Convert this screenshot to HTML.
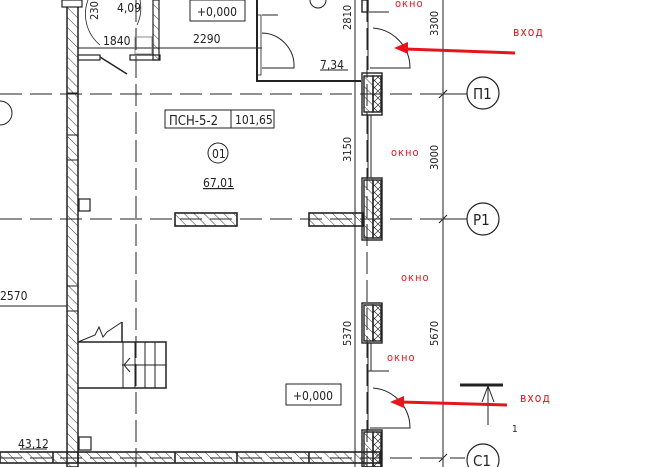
<!DOCTYPE html>
<html><head><meta charset="utf-8"><style>
html,body{margin:0;padding:0;background:#fff;width:648px;height:467px;overflow:hidden}
svg text{font-family:"DejaVu Sans Condensed","DejaVu Sans","Liberation Sans",sans-serif}
</style></head><body>
<svg width="648" height="467" viewBox="0 0 648 467" xmlns="http://www.w3.org/2000/svg">
<defs>
<pattern id="h" width="7" height="7" patternUnits="userSpaceOnUse" patternTransform="rotate(-45)">
<line x1="0" y1="0" x2="0" y2="7" stroke="#222" stroke-width="0.9"/></pattern>
<pattern id="x" width="7" height="7" patternUnits="userSpaceOnUse">
<path d="M0 0L7 7M7 0L0 7" stroke="#333" stroke-width="0.7"/></pattern>
</defs>
<g fill="none" stroke="#222">
<line x1="0" y1="94" x2="465" y2="94" stroke-dasharray="22,8" stroke-width="1"/>
<line x1="0" y1="219" x2="465" y2="219" stroke-dasharray="22,8" stroke-width="1"/>
<line x1="0" y1="458" x2="465" y2="458" stroke-dasharray="22,8" stroke-width="1"/>
<line x1="136" y1="0" x2="136" y2="467" stroke-dasharray="22,6" stroke-width="1"/>
<line x1="367" y1="0" x2="367" y2="467" stroke-dasharray="22,6" stroke-width="1"/>
<line x1="355" y1="0" x2="355" y2="467" stroke-width="1"/>
<line x1="443" y1="0" x2="443" y2="467" stroke-width="1"/>
<path d="M439 98l8-8M439 223l8-8M439 462l8-8" stroke-width="1"/>
<line x1="443" y1="94" x2="467" y2="94"/><line x1="443" y1="219" x2="467" y2="219"/>
<circle cx="0" cy="113" r="12"/>
<circle cx="483" cy="93" r="16" stroke-width="1.2"/>
<circle cx="483" cy="219" r="16" stroke-width="1.2"/>
<circle cx="483" cy="460" r="16" stroke-width="1.2"/>
<circle cx="218" cy="153" r="10"/>
<rect x="67" y="0" width="11" height="467" fill="url(#h)" stroke-width="1.5"/>
<line x1="67" y1="93" x2="78" y2="93"/><line x1="67" y1="135" x2="78" y2="135"/><line x1="67" y1="160" x2="78" y2="160"/><line x1="67" y1="286" x2="78" y2="286"/><line x1="67" y1="311" x2="78" y2="311"/>
<rect x="62" y="0" width="20" height="7" fill="#fff" stroke-width="1.2"/>
<line x1="78" y1="48" x2="262" y2="48" stroke-width="1"/>
<rect x="78" y="55" width="22" height="5" stroke-width="1.2"/>
<line x1="100" y1="57" x2="127" y2="74" stroke-width="1.5"/>
<rect x="130" y="55" width="30" height="5" stroke-width="1.2"/>
<rect x="153" y="0" width="6" height="60" fill="url(#h)" stroke-width="1.2"/>
<rect x="135" y="37" width="17" height="17" stroke="#888"/>
<path d="M88 0a40 40 0 0 0 12 45" stroke-width="0.8"/>
<path d="M140 0a40 40 0 0 1 -3 25" stroke-width="0.8"/>
<path d="M257 0V81H361" stroke-width="2"/>
<rect x="257" y="15" width="4" height="60" stroke-width="0.8"/>
<path d="M262 15h16M262 33a33 33 0 0 1 32 35h-32" stroke-width="1"/>
<path d="M310 0a8 8 0 0 0 16 0" stroke-width="1"/>
<g stroke-width="1.4">
<rect x="362" y="73" width="20" height="42"/><rect x="364" y="76" width="9" height="36" fill="url(#h)"/><rect x="373" y="76" width="8" height="36" fill="url(#x)"/>
<rect x="362" y="178" width="20" height="62"/><rect x="364" y="180" width="9" height="58" fill="url(#h)"/><rect x="373" y="180" width="8" height="58" fill="url(#x)"/>
<rect x="362" y="303" width="20" height="40"/><rect x="364" y="305" width="9" height="36" fill="url(#h)"/><rect x="373" y="305" width="8" height="36" fill="url(#x)"/>
<rect x="362" y="430" width="20" height="37"/><rect x="364" y="432" width="9" height="35" fill="url(#h)"/><rect x="373" y="432" width="8" height="35" fill="url(#x)"/>
<rect x="362" y="0" width="6" height="12"/>
</g>
<rect x="368" y="115" width="3" height="63" stroke-width="1"/>
<rect x="368" y="343" width="3" height="28" stroke-width="1"/>
<path d="M368 12V70M368 371V430" stroke-width="1"/>
<path d="M369 12h20M373 28a40 40 0 0 1 37 40h-40" stroke-width="1"/>
<path d="M369 371h20M373 388a40 40 0 0 1 37 40h-40" stroke-width="1"/>
<rect x="175" y="213" width="62" height="13" fill="url(#h)" stroke-width="1.6"/>
<rect x="309" y="213" width="54" height="13" fill="url(#h)" stroke-width="1.6"/>
<rect x="79" y="199" width="11" height="12" stroke-width="1.2"/>
<rect x="79" y="437" width="12" height="13" stroke-width="1.2"/>
<rect x="0" y="452" width="380" height="11" fill="url(#h)" stroke-width="1.6"/>
<path d="M53 452v11M78 452v11M175 452v11M237 452v11M309 452v11" stroke-width="1.6"/>
<path d="M78 342H122V322M122 342H166V388H78" stroke-width="1.5"/>
<path d="M123 342V388M135 342V388M145 342V388M155 342V388M122 365H166" stroke-width="1"/>
<path d="M130 358l-6 7 6 7" stroke-width="1"/>
<path d="M78 342L95 335l4-8 4 10 4-5 15-10" stroke-width="1"/>
<line x1="0" y1="306" x2="67" y2="306" stroke-width="1"/>
<rect x="190" y="0" width="55" height="21" stroke-width="1"/>
<rect x="165" y="110" width="109" height="18" stroke-width="1"/>
<line x1="231" y1="110" x2="231" y2="128"/>
<rect x="286" y="384" width="55" height="21" stroke-width="1"/>
<line x1="460" y1="385" x2="503" y2="385" stroke-width="3"/>
<path d="M488 425V385M482 402l6-16 6 16" stroke-width="1"/>
<path d="M320 70h28M20 449h27" stroke-width="1"/>
</g>
<g stroke="#e8141c" fill="#e8141c">
<line x1="515" y1="53" x2="405" y2="49" stroke-width="3"/>
<path d="M394 48l14-6v12z" stroke="none"/>
<line x1="507" y1="405" x2="401" y2="402" stroke-width="3"/>
<path d="M390 402l14-6v12z" stroke="none"/>
</g>
<g fill="#e8141c" font-size="11" letter-spacing="1">
<text x="395" y="7">окно</text>
<text x="391" y="156">окно</text>
<text x="401" y="281">окно</text>
<text x="387" y="361">окно</text>
<text x="513" y="36" font-size="12">вход</text>
<text x="520" y="402" font-size="12">вход</text>
</g>
<g fill="#222" font-size="12">
<text x="197" y="16">+0,000</text>
<text x="293" y="400">+0,000</text>
<text x="169" y="125" font-size="13">ПСН-5-2</text>
<text x="235" y="124">101,65</text>
<text x="212" y="158">01</text>
<text x="203" y="187" text-decoration="underline">67,01</text>
<text x="117" y="12">4,09</text>
<text x="103" y="45">1840</text>
<text x="193" y="43">2290</text>
<text x="320" y="69">7,34</text>
<text x="0" y="300">2570</text>
<text x="18" y="448">43,12</text>
<text x="512" y="432" font-size="10">1</text>
<text x="473" y="99" font-size="15">П1</text>
<text x="473" y="225" font-size="15">Р1</text>
<text x="473" y="466" font-size="15">С1</text>
<g font-size="11">
<text transform="translate(351,30) rotate(-90)">2810</text>
<text transform="translate(351,162) rotate(-90)">3150</text>
<text transform="translate(351,346) rotate(-90)">5370</text>
<text transform="translate(438,36) rotate(-90)">3300</text>
<text transform="translate(438,170) rotate(-90)">3000</text>
<text transform="translate(438,346) rotate(-90)">5670</text>
<text transform="translate(98,20) rotate(-90)">230</text>
</g>
</g>
</svg>
</body></html>
